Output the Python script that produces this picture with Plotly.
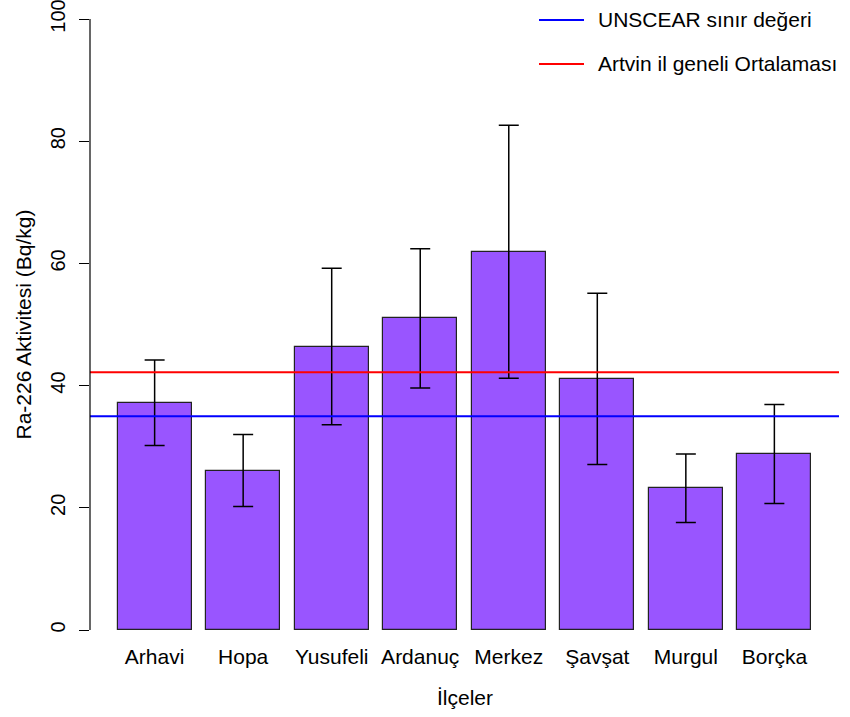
import plotly.graph_objects as go

districts = ["Arhavi", "Hopa", "Yusufeli", "Ardanuç", "Merkez", "Şavşat", "Murgul", "Borçka"]
ra226 = [37.2, 26.1, 46.4, 51.0, 61.9, 41.1, 23.2, 28.8]
ra226_err = [7.0, 5.9, 12.8, 11.4, 20.7, 14.0, 5.6, 8.1]
unscear_limit = 35.0
artvin_mean = 42.2
y_ticks = [0, 20, 40, 60, 80, 100]

FONT = "Liberation Sans, Arial, sans-serif"
FS = 21

# body margin is removed in post_script, so figure pixels == page pixels
W, H = 850, 717
# desired plot box in page pixels
L_pg, R_pg, T_pg, B_pg = 90, 839, 18, 642
L, T = L_pg, T_pg
R, B = W - R_pg, H - B_pg
pw, ph = W - L - R, H - T - B
def px(x): return (x - L) / pw
def py(y): return 1 - (y - T) / ph

# y range so that 0 -> page 630 and 100 -> page 19
ppu = (630 - 19) / 100.0
y_lo = -(B_pg - 630) / ppu
y_hi = 100 + (19 - T_pg) / ppu

fig = go.Figure()
fig.add_trace(go.Bar(
    x=districts, y=ra226, width=0.8333,
    marker=dict(color="#9955FF", line=dict(color="#222222", width=1.2)),
    error_y=dict(type="data", array=ra226_err, visible=True,
                 color="black", thickness=1.5, width=10),
    showlegend=False,
))

# reference lines
fig.add_shape(type="line", xref="paper", yref="y", x0=0, x1=1,
              y0=unscear_limit, y1=unscear_limit, line=dict(color="#0000FF", width=2))
fig.add_shape(type="line", xref="paper", yref="y", x0=0, x1=1,
              y0=artvin_mean, y1=artvin_mean, line=dict(color="#FF0000", width=2))

# y axis line (R style, only from 0 to 100)
fig.add_shape(type="line", xref="paper", yref="y", x0=0, x1=0,
              y0=y_ticks[0], y1=y_ticks[-1], line=dict(color="black", width=1.2))

# manual legend (top right, no box)
legend_items = [("UNSCEAR sınır değeri", "#0000FF", 20), ("Artvin il geneli Ortalaması", "#FF0000", 64)]
for label, col, yy in legend_items:
    fig.add_shape(type="line", xref="paper", yref="paper", x0=px(539), x1=px(584),
                  y0=py(yy), y1=py(yy), line=dict(color=col, width=2))
    fig.add_annotation(text=label, xref="paper", yref="paper", x=px(596), y=py(yy),
                       xanchor="left", yanchor="middle", showarrow=False,
                       font=dict(family=FONT, size=FS, color="black"))

# axis titles
fig.add_annotation(text="Ra-226 Aktivitesi (Bq/kg)", xref="paper", yref="y",
                   x=px(23), y=50, textangle=-90, showarrow=False,
                   xanchor="center", yanchor="middle",
                   font=dict(family=FONT, size=FS, color="black"))
fig.add_annotation(text="İlçeler", xref="paper", yref="paper",
                   x=px(465), y=py(697), showarrow=False,
                   xanchor="center", yanchor="middle",
                   font=dict(family=FONT, size=FS, color="black"))

fig.update_layout(
    template="none",
    width=W, height=H,
    margin=dict(l=L, r=R, t=T, b=B, autoexpand=False),
    plot_bgcolor="white", paper_bgcolor="white",
    font=dict(family=FONT, size=FS, color="black"),
    bargap=0,
    xaxis=dict(range=[-0.73, 7.73], showgrid=False, showline=False, ticks="",
               zeroline=False, tickfont=dict(size=FS, color="black"), fixedrange=True,
               automargin=False),
    yaxis=dict(range=[y_lo, y_hi], tickvals=y_ticks, ticks="outside", ticklen=10,
               tickcolor="black", tickwidth=1.2, tickangle=-90, showgrid=False,
               showline=False, zeroline=False, tickfont=dict(size=20, color="black"),
               ticklabelstandoff=6, ticklabeloverflow="allow", automargin=False),
)

fig.write_html(
    "out.html",
    config={"displayModeBar": False},
    post_script="document.body.style.margin='0';document.body.style.overflow='hidden';",
)
